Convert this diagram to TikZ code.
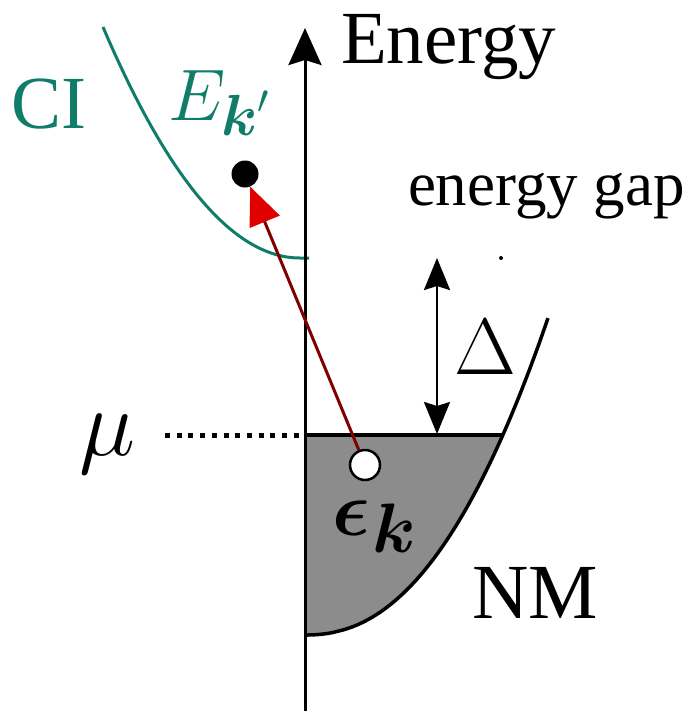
\RequirePackage{fix-cm}
\documentclass[tikz,border=0pt]{standalone}
\usepackage{amsmath}
\usepackage{bm}
\usepackage{fontspec}
\setmainfont{Liberation Serif}
\usetikzlibrary{arrows.meta}
\definecolor{teal1}{RGB}{16,124,106}
\definecolor{dred}{RGB}{128,0,0}
\definecolor{bred}{RGB}{225,0,0}
\definecolor{fillgray}{RGB}{140,140,140}
\tikzset{
  fs/.style={font=\fontsize{#1}{#1}\selectfont},
  lbl/.style={anchor=base west, inner sep=0pt, outer sep=0pt},
}
\newcommand{\subfs}[1]{\fontsize{#1}{#1}\selectfont}
\begin{document}
\begin{tikzpicture}[x=1pt,y=-1pt]
\useasboundingbox (0,0) rectangle (694,713);
% filled region
\fill[fillgray] (305,435) -- plot[domain=0:197.8,samples=60] ({305+\x},{635-317*(\x/243)^2.24}) -- cycle;
% NM curve
\draw[line width=3.5pt] plot[domain=0:243,samples=80] ({305+\x},{635-317*(\x/243)^2.24});
% CI curve
\coordinate (cistart) at (103,27);
\coordinate (ciend) at (309,258);
\draw[teal1,line width=3pt] (cistart) .. controls (168.7,181) and (234.3,258) .. (300,258) -- (ciend);
% axis
\coordinate (axb) at (305,711);
\coordinate (axt) at (305,28);
\draw[line width=3pt,-{Stealth[length=37pt,width=33pt,inset=5pt]}] (axb) -- (axt);
% mu line
\coordinate (mul) at (165,435);
\coordinate (mua) at (305,435);
\coordinate (mur) at (502,435);
\draw[line width=5pt,dash pattern=on 5pt off 6.7pt] (mul) -- (mua);
\draw[line width=3.5pt] (mua) -- (mur);
% gap arrow
\coordinate (gt) at (437,258);
\coordinate (gb) at (437,434);
\draw[line width=2.5pt,{Stealth[length=32pt,width=26pt,inset=4pt]}-{Stealth[length=32pt,width=26pt,inset=4pt]}] (gt) -- (gb);
\fill (501,258) circle (2pt);
% dots
\node[circle,fill=black,minimum size=27pt,inner sep=0pt] (ek) at (245,174) {};
\node[circle,draw=black,fill=white,line width=2.5pt,minimum size=30pt,inner sep=0pt] (hole) at (365,465) {};
\draw[dred,line width=3pt,-{Triangle[length=38pt,width=32pt,fill=bred,color=bred]}] (hole) -- (ek);
% labels
\node[lbl,fs=75pt] (energy) at (341,63) {Energy};
\node[lbl,fs=63pt] (gap) at (408,205) {energy gap};
\node[lbl,fs=78pt] (nm) at (472,618) {NM};
\node[lbl,fs=75pt,text=teal1] (ci) at (11,128) {CI};
\node[lbl,fs=73pt,text=teal1] (ekl) at (168,120) {$E$\kern-4pt\raisebox{-15pt}{\subfs{58pt}$\bm{k}'$}};
\node[lbl,fs=95pt] (mu) at (79,455) {$\mu$};
\node[lbl,fs=80pt] (delta) at (454,374) {$\Delta$};
\node[lbl,fs=78pt] (eps) at (332,535) {$\bm{\epsilon}$\kern3pt\raisebox{-17pt}{\subfs{70pt}$\bm{k}$}};
\end{tikzpicture}
\end{document}
